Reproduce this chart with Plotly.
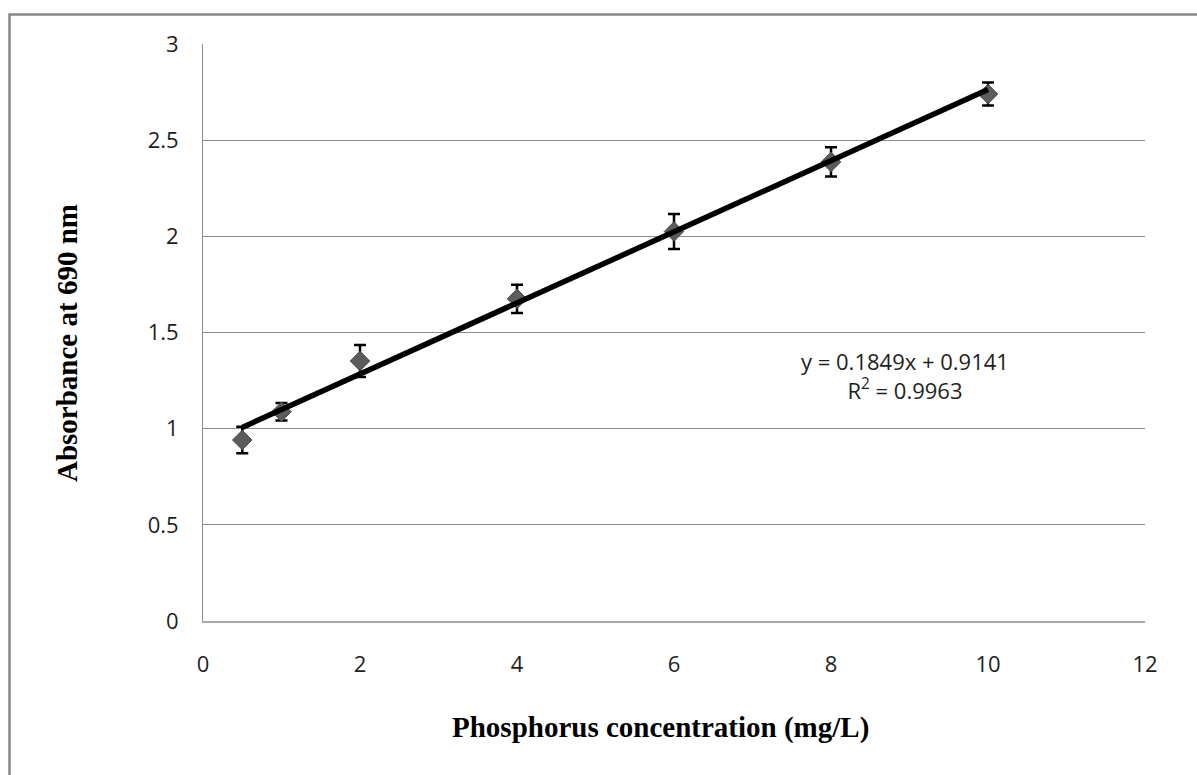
import plotly.graph_objects as go

# Data
conc = [0.5, 1, 2, 4, 6, 8, 10]
absorbance = [0.941, 1.088, 1.352, 1.675, 2.025, 2.387, 2.740]
abs_err = [0.069, 0.045, 0.083, 0.073, 0.091, 0.076, 0.060]

# Linear trend line as stated on the chart
slope = 0.1849
intercept = 0.9141
trend_x = [conc[0], conc[-1]]
trend_y = [slope * v + intercept for v in trend_x]

x_ticks = [0, 2, 4, 6, 8, 10, 12]
y_ticks = [0, 0.5, 1, 1.5, 2, 2.5, 3]
y_tick_text = ["0", "0.5", "1", "1.5", "2", "2.5", "3"]

W, H = 1197, 775
L, R, T, B = 203, 52, 44, 154
pw, ph = W - L - R, H - T - B


def px_to_paper_x(px):
    return (px - L) / pw


def px_to_paper_y(py):
    return (H - B - py) / ph


fig = go.Figure()

fig.add_trace(go.Scatter(
    x=conc, y=absorbance, mode="markers",
    marker=dict(symbol="diamond", size=15, color="#5c5c5c",
                line=dict(color="#484848", width=1)),
    error_y=dict(type="data", array=abs_err, visible=True,
                 color="black", thickness=2.5, width=6),
    showlegend=False, hoverinfo="x+y",
))

fig.add_trace(go.Scatter(
    x=trend_x, y=trend_y, mode="lines",
    line=dict(color="black", width=5.5),
    showlegend=False, hoverinfo="skip",
))

tick_font = dict(family="Open Sans", size=22, color="#1e1e1e")
title_font = dict(family="Liberation Serif", size=29, color="black")

fig.update_layout(
    width=W, height=H,
    margin=dict(l=L, r=R, t=T, b=B),
    paper_bgcolor="white", plot_bgcolor="white",
    xaxis=dict(range=[0, 12], tickvals=x_ticks, ticktext=[str(v) for v in x_ticks],
               showgrid=False, zeroline=False, showline=True,
               linecolor="#a8a8a8", linewidth=1.5, ticks="",
               tickfont=tick_font, ticklabelstandoff=23),
    yaxis=dict(range=[0, 3], tickvals=y_ticks, ticktext=y_tick_text,
               showgrid=True, gridcolor="#8c8c8c", gridwidth=1,
               zeroline=False, showline=True, linecolor="#8c8c8c", linewidth=1,
               ticks="", tickfont=tick_font, ticklabelstandoff=19),
)

fig.add_annotation(
    x=px_to_paper_x(660), y=px_to_paper_y(727), xref="paper", yref="paper",
    text="<b>Phosphorus concentration (mg/L)</b>", showarrow=False,
    font=title_font, xanchor="center", yanchor="middle",
)
fig.add_annotation(
    x=px_to_paper_x(67), y=px_to_paper_y(343), xref="paper", yref="paper",
    text="<b>Absorbance at 690 nm</b>", showarrow=False, textangle=-90,
    font=title_font, xanchor="center", yanchor="middle",
)
fig.add_annotation(
    x=8.94, y=1.274, xref="x", yref="y",
    text="y = 0.1849x + 0.9141<br>R<sup>2</sup> = 0.9963", showarrow=False,
    font=dict(family="Open Sans", size=22, color="#1e1e1e"), align="center",
    xanchor="center", yanchor="middle",
)

fig.add_shape(
    type="rect", xref="paper", yref="paper",
    x0=px_to_paper_x(9.5), y0=px_to_paper_y(800), x1=px_to_paper_x(1230), y1=px_to_paper_y(14.5),
    line=dict(color="#868686", width=2.5), fillcolor="rgba(0,0,0,0)", layer="below",
)

fig.write_html("out.html")
